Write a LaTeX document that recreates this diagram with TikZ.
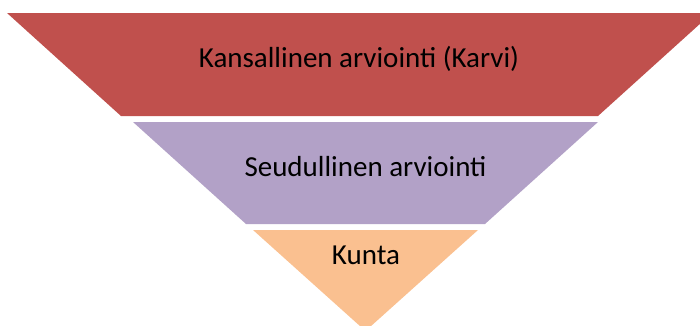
\documentclass[tikz,border=0pt]{standalone}
\usepackage{fontspec}
\setmainfont{Carlito}
\definecolor{lvlred}{HTML}{C0504D}
\definecolor{lvlpurple}{HTML}{B2A1C7}
\definecolor{lvlorange}{HTML}{FAC090}
\begin{document}
\begin{tikzpicture}[x=1bp,y=-1bp,
  lbl/.style={anchor=base,inner sep=0pt,font=\fontsize{29bp}{33bp}\selectfont,text=black}]
\useasboundingbox (0,0) rectangle (700,325);
\clip (0,0) rectangle (700,325);
\fill[lvlred] (7,13) -- (712,13) -- (598,116) -- (121,116) -- cycle;
\fill[lvlpurple] (133,122) -- (598,122) -- (485,224) -- (246,224) -- cycle;
\fill[lvlorange] (253,230) -- (478,230) -- (365.5,331) -- cycle;
\node[lbl] (kans) at (359,67) {Kansallinen arviointi (Karvi)};
\node[lbl] (seud) at (365.5,176) {Seudullinen arviointi};
\node[lbl] (kunta) at (366,264) {Kunta};
\end{tikzpicture}
\end{document}
